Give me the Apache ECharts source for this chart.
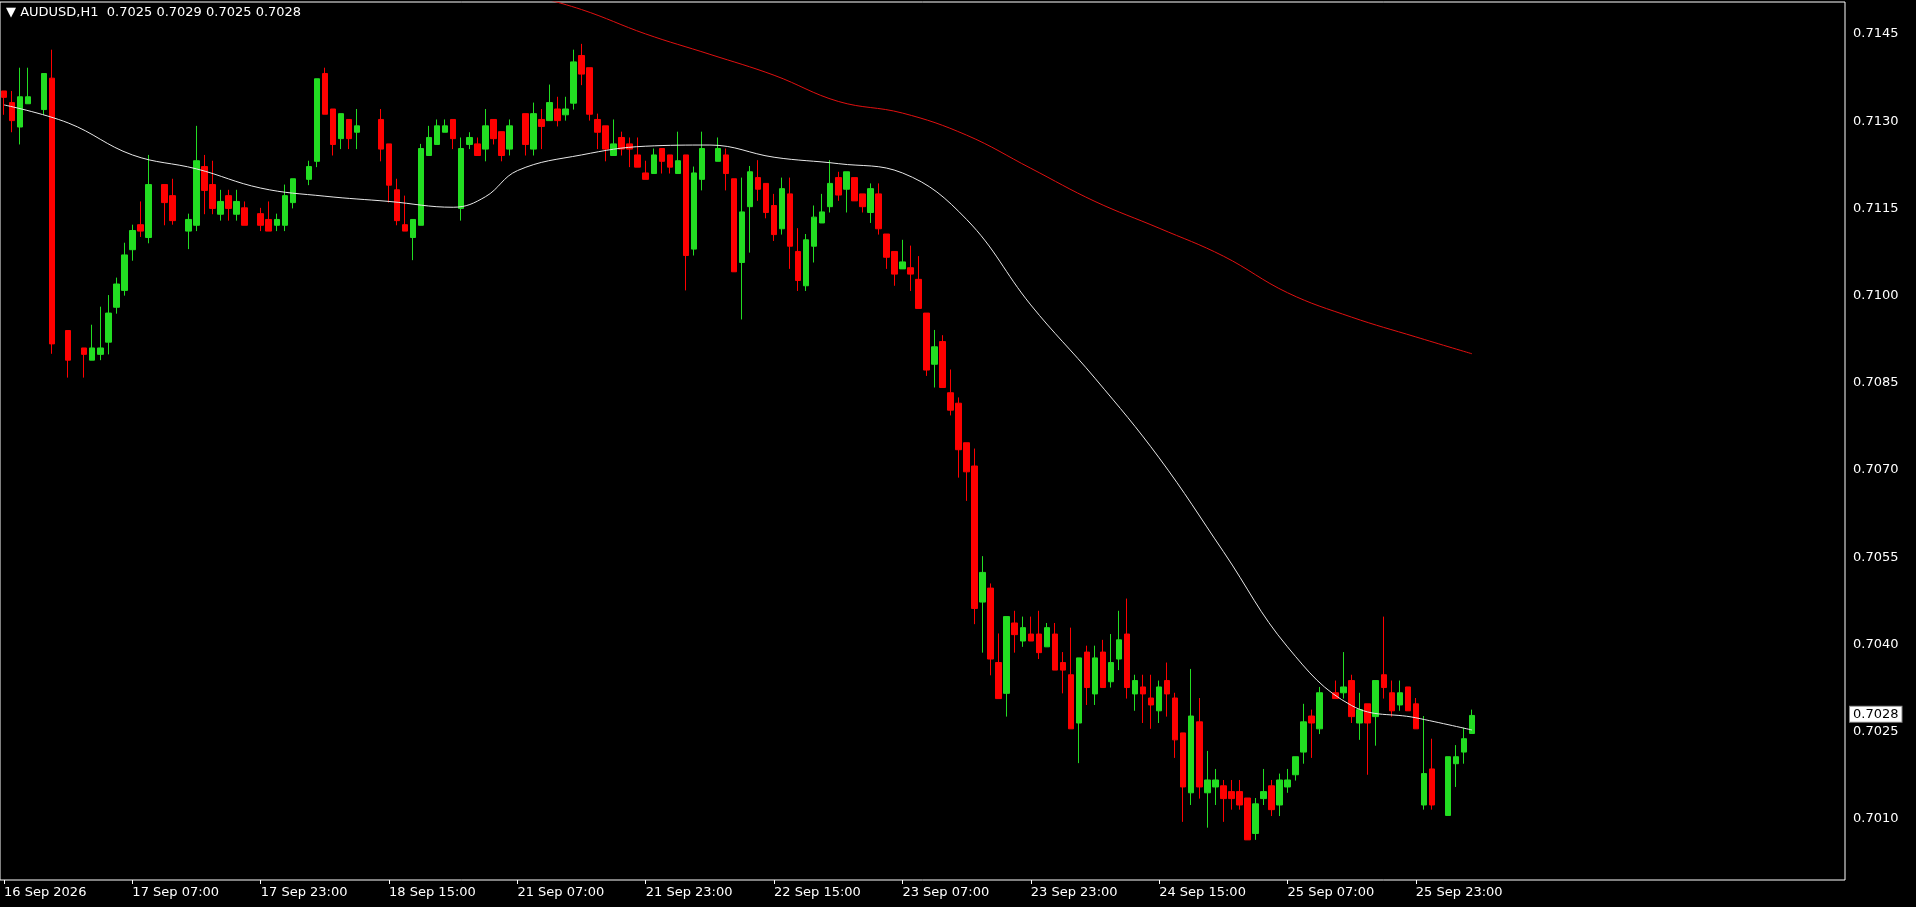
<!DOCTYPE html>
<html><head><meta charset="utf-8">
<script src="https://cdn.jsdelivr.net/npm/echarts@6/dist/echarts.min.js"></script>
<style>html,body{margin:0;padding:0;background:#000;}#c{width:1916px;height:907px;}</style>
</head><body><div id="c"></div>
<script>
const N=null;
const openP=[.71352,.71332,.71290,.71330,N,.71320,.71374,N,.70940,N,.70910,.70889,.70899,.70920,.70980,.71009,.71079,.71122,.71100,N,.71191,.71172,N,.71111,.71121,.71222,.71191,.71140,.71172,.71140,.71151,N,.71141,.71131,.71121,.71121,.71160,N,.71200,.71231,.71382,.71321,.71270,.71303,.71281,N,N,.71303,.71261,.71182,.71122,.71100,.71121,.71241,.71260,.71281,.71303,.71150,.71260,.71261,.71252,.71303,.71282,.71252,N,.71313,.71252,.71303,.71301,.71321,.71311,.71331,.71413,.71392,.71303,.71292,.71241,.71272,.71261,.71242,.71211,.71210,.71253,.71242,.71210,.71242,.71080,.71200,N,.71231,.71242,.71201,.71057,.71153,.71203,.71193,.71155,.71115,.71175,.71076,.71017,.71085,.71125,.71153,.71203,.71183,.71203,.71175,.71143,.71175,.71106,.71076,.71046,.71048,.71028,.70970,.70882,.70921,.70833,.70815,.70747,.70707,.70473,.70497,.70369,.70316,.70437,.70406,.70418,.70418,.70396,.70418,.70369,.70348,.70265,.70387,.70315,.70387,.70336,.70375,.70418,.70315,.70327,.70308,.70286,.70338,.70308,.70248,.70145,.70267,.70145,.70155,.70157,.70147,.70147,.70136,.70075,.70135,.70157,.70124,.70155,.70176,.70215,.70277,.70255,N,.70317,.70317,.70338,.70265,.70298,.70276,.70348,.70317,.70296,.70327,.70298,.70124,.70186,N,.70106,.70195,.70215,.70247];
const highP=[.71352,.71352,.71392,.71392,N,.71382,.71423,N,.70940,N,.70910,.70950,.70981,.71001,.71031,.71091,.71122,.71162,.71242,N,.71191,.71201,N,.71141,.71292,.71242,.71232,.71182,.71182,.71182,.71162,N,.71151,.71162,.71141,.71191,.71201,N,.71232,.71373,.71392,.71321,.71313,.71303,.71321,N,N,.71321,.71261,.71201,.71172,.71131,.71261,.71292,.71303,.71303,.71303,.71272,.71281,.71272,.71321,.71303,.71282,.71303,N,.71313,.71332,.71321,.71363,.71342,.71342,.71423,.71433,.71392,.71313,.71292,.71303,.71282,.71272,.71272,.71232,.71253,.71253,.71242,.71282,.71242,.71222,.71282,N,.71272,.71253,.71201,.71203,.71223,.71233,.71193,.71175,.71203,.71203,.71116,.71106,.71155,.71175,.71233,.71213,.71213,.71203,.71175,.71193,.71193,.71106,.71076,.71096,.71086,.71068,.70970,.70941,.70932,.70873,.70825,.70747,.70737,.70552,.70505,.70419,.70448,.70458,.70448,.70448,.70458,.70437,.70437,.70387,.70429,.70377,.70398,.70398,.70408,.70418,.70458,.70479,.70348,.70348,.70348,.70338,.70369,.70317,.70248,.70358,.70308,.70217,.70186,.70167,.70167,.70167,.70136,.70136,.70186,.70167,.70178,.70186,.70207,.70298,.70288,.70327,N,.70338,.70387,.70348,.70317,.70298,.70338,.70448,.70338,.70338,.70327,.70308,.70277,.70238,N,.70207,.70227,.70257,.70288];
const lowP=[.71311,.71281,.71260,.71330,N,.71311,.70900,N,.70859,N,.70859,.70889,.70889,.70899,.70969,.71000,.71060,.71101,.71090,N,.71121,.71122,N,.71080,.71111,.71140,.71140,.71129,.71129,.71129,.71121,N,.71111,.71111,.71111,.71111,.71150,N,.71190,.71221,.71312,.71241,.71252,.71252,.71252,N,N,.71231,.71160,.71121,.71111,.71061,.71121,.71241,.71260,.71281,.71252,.71129,.71252,.71241,.71231,.71260,.71231,.71241,N,.71241,.71241,.71252,.71301,.71291,.71301,.71320,.71362,.71301,.71252,.71231,.71241,.71241,.71221,.71221,.71200,.71210,.71210,.71210,.71210,.71009,.71069,.71181,N,.71231,.71181,.71041,.70959,.71074,.71163,.71133,.71094,.71105,.71046,.71008,.71008,.71057,.71125,.71143,.71163,.71143,.71163,.71143,.71125,.71105,.71046,.71017,.71046,.71008,.70978,.70862,.70842,.70842,.70794,.70687,.70647,.70435,.70386,.70347,.70307,.70276,.70386,.70396,.70406,.70375,.70396,.70356,.70316,.70255,.70196,.70296,.70296,.70326,.70326,.70356,.70307,.70286,.70265,.70255,.70265,.70276,.70205,.70095,.70124,.70135,.70085,.70124,.70095,.70116,.70116,.70064,.70064,.70124,.70105,.70105,.70145,.70166,.70195,.70205,.70246,N,.70307,.70307,.70265,.70236,.70176,.70226,.70307,.70276,.70286,.70286,.70255,.70116,.70116,N,.70106,.70155,.70195,.70247];
const closeP=[.71341,.71301,.71342,.71342,N,.71382,.70917,N,.70889,N,.70899,.70910,.70910,.70970,.71020,.71070,.71112,.71111,.71191,N,.71160,.71129,N,.71131,.71232,.71181,.71150,.71162,.71150,.71162,.71121,N,.71121,.71111,.71131,.71172,.71201,N,.71222,.71373,.71312,.71260,.71313,.71270,.71292,N,N,.71252,.71190,.71129,.71111,.71131,.71253,.71272,.71292,.71292,.71270,.71253,.71272,.71241,.71292,.71270,.71241,.71292,N,.71260,.71313,.71291,.71332,.71301,.71321,.71402,.71381,.71312,.71281,.71252,.71261,.71252,.71252,.71221,.71200,.71242,.71231,.71221,.71232,.71069,.71211,.71253,N,.71253,.71210,.71041,.71144,.71213,.71183,.71143,.71105,.71184,.71085,.71026,.71096,.71135,.71144,.71193,.71173,.71213,.71163,.71153,.71184,.71115,.71066,.71037,.71058,.71037,.70978,.70872,.70912,.70842,.70803,.70735,.70697,.70462,.70524,.70375,.70307,.70448,.70417,.70429,.70406,.70386,.70429,.70356,.70356,.70255,.70377,.70326,.70377,.70326,.70369,.70408,.70326,.70338,.70315,.70296,.70327,.70315,.70236,.70155,.70277,.70155,.70167,.70167,.70135,.70135,.70124,.70064,.70126,.70147,.70116,.70167,.70167,.70207,.70267,.70265,.70317,N,.70307,.70327,.70276,.70288,.70265,.70338,.70326,.70286,.70317,.70286,.70255,.70178,.70124,N,.70207,.70207,.70238,.70278];
const maFastBars=[0,8,16,24,32,40,48,56,60,64,72,80,88,96,104,112,120,128,136,144,152,160,168,176,183];
const maFastVals=[.71328,.71297,.71242,.71218,.71185,.71171,.71162,.71152,.71170,.71215,.71242,.71257,.71259,.71238,.71227,.71211,.71131,.70984,.70858,.70721,.70560,.70396,.70295,.70274,.70253];
const maSlowBars=[64,72,80,88,96,104,112,120,128,136,144,152,160,168,176,183];
const maSlowVals=[.71523,.71492,.71450,.71415,.71379,.71334,.71314,.71276,.71219,.71162,.71116,.71068,.71005,.70963,.70929,.70900];
const xLabelEvery=16, totalSlots=230, lastPrice=0.7028;
const titleText='\u25BC AUDUSD,H1  0.7025 0.7029 0.7025 0.7028';

const months=['Jan','Feb','Mar','Apr','May','Jun','Jul','Aug','Sep','Oct','Nov','Dec'];
const categories=[];
let t=new Date(Date.UTC(2026,8,16,15));
for(let i=0;i<totalSlots;i++){
  if(i<openP.length){
    const d=t.getUTCDate(),m=months[t.getUTCMonth()],h=t.getUTCHours();
    categories.push(i===0?(d+' '+m+' 2026'):(d+' '+m+' '+String(h).padStart(2,'0')+':00'));
    do{t=new Date(t.getTime()+3600000);}while(t.getUTCDay()===0||t.getUTCDay()===6);
  } else categories.push('');
}
const candles=openP.map((o,i)=>o===null?'-':[o,closeP[i],lowP[i],highP[i]]);
function sparse(bars,vals){const a=new Array(openP.length).fill(null);bars.forEach((b,k)=>a[b]=vals[k]);return a;}
const showTick=(idx,val)=>idx%xLabelEvery===0 && val!=='';

const chart=echarts.init(document.getElementById('c'),null,{renderer:'canvas'});
const base=0.69995, step=0.00015;
chart.setOption({
  animation:false,backgroundColor:'#000',
  graphic:[{type:'text',left:6,top:6,style:{text:titleText,fill:'#fff',font:'13px "DejaVu Sans", sans-serif'}}],
  grid:{left:0,right:71,top:2,bottom:27,show:true,borderColor:'#ffffff',borderWidth:1,backgroundColor:'#000'},
  xAxis:{type:'category',data:categories,boundaryGap:true,
    axisLine:{show:false},splitLine:{show:false},
    axisTick:{show:true,interval:showTick,length:4,lineStyle:{color:'#fff'},alignWithLabel:true},
    axisLabel:{interval:showTick,color:'#fff',fontSize:13,fontFamily:'DejaVu Sans',align:'left',margin:6}},
  yAxis:{type:'value',position:'right',min:base,max:0.71505,interval:step,scale:true,
    axisLine:{show:false},splitLine:{show:false},
    axisTick:{show:false},
    axisLabel:{color:'#fff',fontSize:13,fontFamily:'DejaVu Sans',margin:8,showMinLabel:true,showMaxLabel:false,
      formatter:v=>{const k=Math.round((v-base)/step);return (k%10===7)?v.toFixed(4):'';}}},
  series:[
    {type:'candlestick',data:candles,barWidth:6,
     itemStyle:{color:'#22dd22',color0:'#ff0000',borderColor:'#22dd22',borderColor0:'#ff0000',borderWidth:1}},
    {type:'line',data:sparse(maFastBars,maFastVals),connectNulls:true,smooth:0.4,showSymbol:false,
     lineStyle:{color:'#e8e8e8',width:1},z:3},
    {type:'line',data:sparse(maSlowBars,maSlowVals),connectNulls:true,smooth:0.4,showSymbol:false,
     lineStyle:{color:'#e01010',width:1},z:3}
  ]
});
const py=chart.convertToPixel({yAxisIndex:0},lastPrice);
chart.setOption({graphic:[{type:'text',left:6,top:6,style:{text:titleText,fill:'#fff',font:'13px "DejaVu Sans", sans-serif'}},
  {type:'text',x:1850,y:py,style:{text:lastPrice.toFixed(4),fill:'#000',backgroundColor:'#fff',padding:[1,3],
    font:'13px "DejaVu Sans", sans-serif',verticalAlign:'middle',borderColor:'#888',borderWidth:1},z:10}]});
</script></body></html>
